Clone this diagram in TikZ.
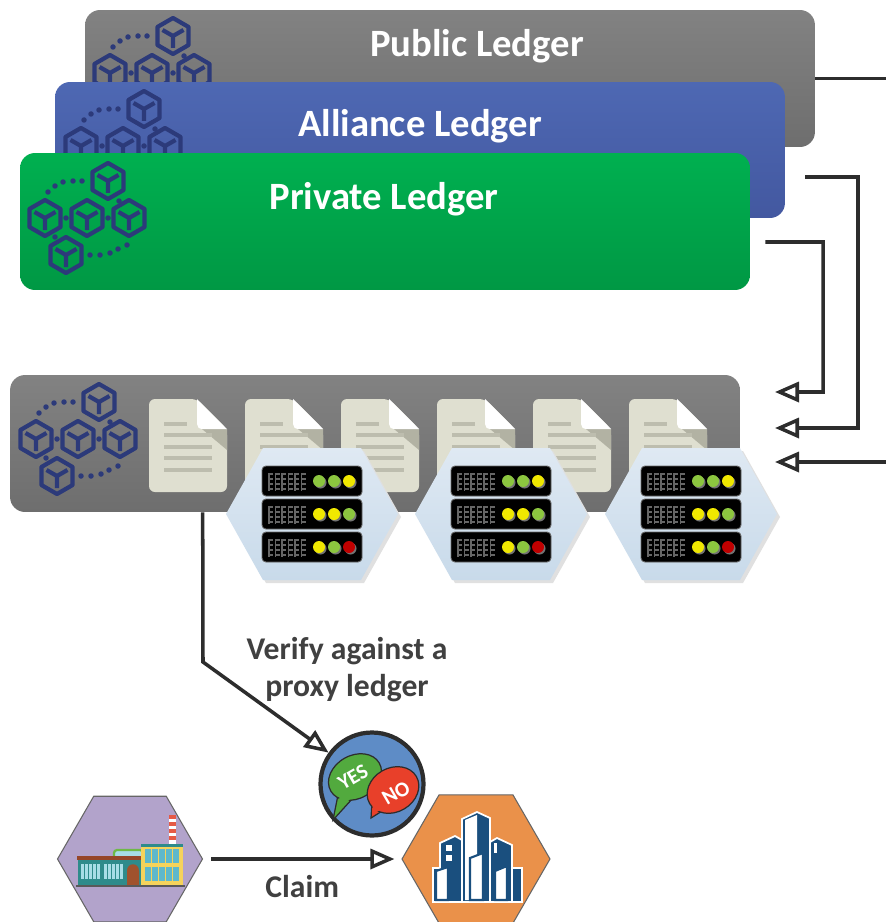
\documentclass[tikz,border=0pt]{standalone}
\usepackage{fontspec}
\setmainfont{Carlito}
\usepackage{tikz}
\usetikzlibrary{shapes.geometric,arrows.meta,positioning}
\definecolor{ledgergray}{RGB}{130,130,130}
\definecolor{ledgergraydk}{RGB}{110,110,110}
\definecolor{allytop}{RGB}{78,104,179}
\definecolor{allybot}{RGB}{67,88,160}
\definecolor{privtop}{RGB}{0,176,80}
\definecolor{privbot}{RGB}{0,152,68}
\definecolor{cubenavy}{RGB}{44,58,122}
\definecolor{paper}{RGB}{223,223,208}
\definecolor{paperline}{RGB}{189,189,174}
\definecolor{papershade}{RGB}{178,178,163}
\definecolor{hextop}{RGB}{223,233,243}
\definecolor{hexbot}{RGB}{200,218,234}
\definecolor{ledgreen}{RGB}{140,198,63}
\definecolor{ledyellow}{RGB}{240,232,0}
\definecolor{ledred}{RGB}{192,0,0}
\definecolor{linegray}{RGB}{45,45,45}
\definecolor{textgray}{RGB}{64,64,64}
\definecolor{ynblue}{RGB}{94,140,198}
\definecolor{yesgreen}{RGB}{82,170,62}
\definecolor{nored}{RGB}{232,64,42}
\definecolor{factpurple}{RGB}{178,163,203}
\definecolor{corporange}{RGB}{234,145,74}
\definecolor{towerblue}{RGB}{26,79,126}
\definecolor{wallteal}{RGB}{46,139,139}
\definecolor{wallyellow}{RGB}{245,211,91}
\definecolor{glassblue}{RGB}{167,221,230}
\definecolor{paneblue}{RGB}{94,184,204}
\definecolor{roofbrown}{RGB}{150,70,40}
\definecolor{doorbrown}{RGB}{160,82,45}
\definecolor{leafgreen}{RGB}{110,185,70}
\definecolor{chimred}{RGB}{230,90,70}

\begin{document}
\begin{tikzpicture}[
x=0.02cm, y=-0.02cm,
ledger/.style={rounded corners=0.3cm, minimum width=14.6cm, minimum height=2.74cm, inner sep=0pt},
title/.style={text=white, font=\fontsize{22}{26}\selectfont\bfseries},
note/.style={text=textgray, font=\fontsize{18}{21}\selectfont\bfseries, align=center, inner sep=0pt},
yesno/.style={rotate=30, text=white, inner sep=0pt, font=\fontsize{12}{12}\selectfont\bfseries},
link/.style={line width=2pt, draw=linegray},
arrow/.style={link, -{Triangle[open, length=0.48cm, width=0.4cm]}},
hexa/.style={regular polygon, regular polygon sides=6, draw=gray!80!black, line width=0.6pt,
minimum size=2.9cm, inner sep=0pt},
grille/.style={draw=black!60, line width=0.6pt},
cube/.pic={
  \draw[cubenavy, line width=2.4pt, line join=round]
    (0,-18) -- (15.6,-9) -- (15.6,9) -- (0,18) -- (-15.6,9) -- (-15.6,-9) -- cycle;
  \draw[cubenavy, line width=2.4pt, line join=round] (-10.5,-6) -- (0,0) -- (10.5,-6) (0,0) -- (0,12);
},
chain/.pic={
  \pic at (0,0) {cube};
  \pic at (-63,37) {cube};
  \pic at (-21,37) {cube};
  \pic at (21,37) {cube};
  \pic at (-42,74) {cube};
  \foreach \p in {(-60,11),(-53,5),(-45,1),(-35,0),(-26,0),(11,20),(-42,37),(0,37),(-53,56),
    (-18,74),(-8,74),(2,72),(10,68),(19,64)}
    \fill[cubenavy] \p circle (0.055cm);
},
doc/.pic={
  \fill[paper, rounded corners=0.12cm] (0,0) -- (48,0) -- (78,30) -- (78,93) -- (0,93) -- cycle;
  \fill[papershade] (53,30) -- (78,30) -- (78,51) -- cycle;
  \fill[white] (48,0) -- (78,30) -- (54,30) .. controls (50,30) and (48,28) .. (48,25) -- cycle;
  \draw[paperline, line width=2.2pt] (15,25) -- (38,25);
  \foreach \ly in {36,48,59,71} \draw[paperline, line width=2.2pt] (15,\ly) -- (63,\ly);
},
rack/.pic={
  \fill[black!12] (-83,3) -- (-46,69) -- (52,69) -- (89,3) -- (52,-63) -- (-46,-63) -- cycle;
  \shade[top color=hextop, bottom color=hexbot]
    (-86,0) -- (-49,-66) -- (49,-66) -- (86,0) -- (49,66) -- (-49,66) -- cycle;
  \foreach \ry/\ledA/\ledB/\ledC in {-33/ledgreen/ledgreen/ledyellow, 0/ledyellow/ledyellow/ledgreen,
    33/ledyellow/ledgreen/ledred} {
    \filldraw[fill=black, draw=black!60, line width=0.5pt, rounded corners=0.08cm]
      (-50,\ry-15) rectangle (50,\ry+15);
    \foreach \g in {0,...,5} {
      \draw[grille] (-43+6.5*\g,\ry-8) -- (-43+6.5*\g,\ry+10);
      \foreach \h in {-7,-2,3,8} \draw[grille] (-43+6.5*\g,\ry+\h) -- (-39+6.5*\g,\ry+\h);
    }
    \foreach \lx/\col in {7/\ledA, 22/\ledB, 37/\ledC} {
      \fill[black!55] (\lx+1.5,\ry+1.5) circle (0.12cm);
      \fill[\col] (\lx,\ry) circle (0.12cm);
    }
  }
}
]

\useasboundingbox (0,0) rectangle (885,922);
\fill[white] (0,0) rectangle (885,922);

\node[ledger, top color=ledgergray, bottom color=ledgergraydk] (pub) at (450,78.5) {};
\pic at (173,36) {chain};
\node[title] (pubt) at (477,46) {Public Ledger};

\node[ledger, minimum height=2.72cm, top color=allytop, bottom color=allybot] (ally) at (420,150) {};
\pic at (144,109) {chain};
\node[title] (allyt) at (420,126) {Alliance Ledger};

\node[ledger, top color=privtop, bottom color=privbot] (priv) at (385,221.5) {};
\pic at (108,181) {chain};
\node[title] (privt) at (384,199) {Private Ledger};

\node[ledger, top color=ledgergray, bottom color=ledgergraydk] (proxy) at (375,443.5) {};
\pic at (99,402) {chain};
\foreach \dx in {149,245,341,437,533,629} \pic at (\dx,399) {doc};
\foreach \hx in {312,501,691} \pic at (\hx,514) {rack};

\coordinate (in1) at (775,392);
\coordinate (in2) at (775,428);
\coordinate (in3) at (775,462);

\draw[arrow] ([shift={(15,20.5)}]priv.east) -- (823,242) |- (in1);
\draw[arrow] ([shift={(20,27)}]ally.east) -- (858,177) |- (in2);
\draw[arrow] (pub.east) -- (905,78.5) |- (in3);

\node[circle, fill=ynblue, draw=linegray, line width=2.4pt, minimum size=2.06cm, inner sep=0pt] (yn) at (372,784) {};
\draw[arrow] ([xshift=3.86cm]proxy.south west) -- (203,662) -- (yn);
\node[note] (vtxt) at (347,670) {Verify against a\\proxy ledger};

\filldraw[fill=yesgreen, draw=linegray, line width=0.7pt] (339,790) -- (333,820) -- (353,798) -- cycle;
\filldraw[fill=yesgreen, draw=linegray, line width=0.7pt, rotate around={30:(355,777)}]
  (355,777) ellipse [x radius=0.56cm, y radius=0.43cm];
\fill[yesgreen] (341,791) -- (336,813) -- (351,798) -- cycle;
\filldraw[fill=nored, draw=linegray, line width=0.7pt] (372,802) -- (371,818) -- (387,808) -- cycle;
\filldraw[fill=nored, draw=linegray, line width=0.7pt, rotate around={30:(393,790)}]
  (393,790) ellipse [x radius=0.54cm, y radius=0.44cm];
\fill[nored] (373,803) -- (372,814) -- (385,808) -- cycle;
\node[yesno] (yes) at (353,777) {YES};
\node[yesno] (no) at (396,793) {NO};

\node[hexa, fill=factpurple] (fac) at (130,859) {};
\node[hexa, fill=corporange, minimum size=2.96cm] (corp) at (476,859) {};
\draw[arrow, shorten <=0.16cm, shorten >=0.14cm] (fac) -- (corp)
  node[note, midway, below=0.3cm] (claim) {Claim};

\fill[white] (169,815) rectangle (176,845);
\foreach \cy in {815,822,829,836} \fill[chimred] (169,\cy) rectangle (176,\cy+4);
\filldraw[fill=glassblue, draw=leafgreen, line width=1.3pt, rounded corners=0.06cm]
  (114,860) -- (114,850) -- (143,850) -- (143,860);
\fill[wallteal] (78,859) rectangle (142,886);
\fill[roofbrown] (77,856) rectangle (142,860);
\foreach \wx in {81,104} {
  \fill[glassblue] (\wx,864) rectangle (\wx+19,879);
  \foreach \k in {1,...,4} \draw[wallteal, line width=0.5pt] (\wx+3.8*\k,864) -- (\wx+3.8*\k,879);
}
\fill[doorbrown] (127,886) -- (127,871) .. controls (127,862) and (139,862) .. (139,871) -- (139,886) -- cycle;
\fill[wallyellow] (141,845) rectangle (183,886);
\fill[wallteal] (141,844) rectangle (183,847);
\foreach \wy in {849,867} \foreach \k in {0,...,4}
  \fill[paneblue] (145+7*\k,\wy) rectangle (150.5+7*\k,\wy+14);
\draw[gray!70!black, line width=0.8pt] (76,886) -- (185,886);

\begin{scope}[draw=white, line width=1pt, fill=towerblue]
\filldraw (433,868) rectangle (522,902);
\filldraw (440,902) -- (440,843) -- (455,836) -- (462,840) -- (462,902) -- cycle;
\filldraw (490,902) -- (490,842) -- (497,838) -- (512,845) -- (512,902) -- cycle;
\filldraw (462,902) -- (462,819) -- (477,812) -- (490,818) -- (490,902) -- cycle;
\end{scope}
\fill[white] (465,900) -- (465,820) -- (477,815) -- (477,900) -- cycle;
\fill[white] (446,845) rectangle (452,851);
\fill[white] (446,855) rectangle (452,861);
\fill[white] (494,843) rectangle (497,853);
\filldraw[fill=white, draw=towerblue, line width=1.2pt] (436,900) -- (436,871) -- (448,867) -- (448,900) -- cycle;
\filldraw[fill=white, draw=towerblue, line width=1.2pt] (470,900) -- (470,858) -- (483,853) -- (483,900) -- cycle;
\filldraw[fill=white, draw=towerblue, line width=1.2pt] (495,900) -- (495,871) -- (507,866) -- (507,900) -- cycle;

\end{tikzpicture}
\end{document}
